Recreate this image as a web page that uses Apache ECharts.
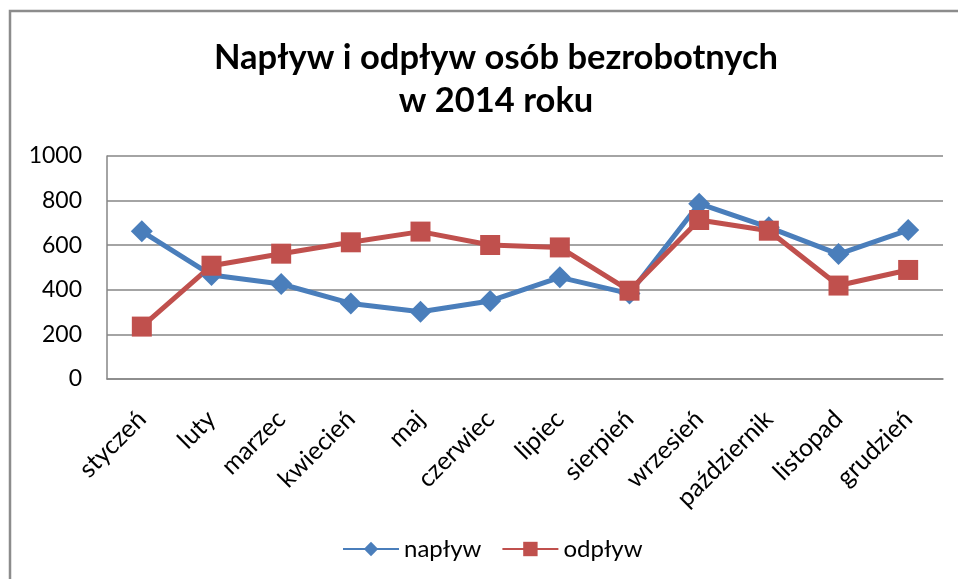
<!DOCTYPE html>
<html>
<head>
<meta charset="utf-8">
<script src="https://cdn.jsdelivr.net/npm/echarts@6/dist/echarts.min.js"></script>
<style>
  html, body { margin: 0; padding: 0; background: #fff; }
  #myChart { width: 958px; height: 579px; }
</style>
</head>
<body>
<div id="myChart"></div>
<script>
  // miesiące
  var months = ['styczeń', 'luty', 'marzec', 'kwiecień', 'maj', 'czerwiec',
    'lipiec', 'sierpień', 'wrzesień', 'październik', 'listopad', 'grudzień']
  var naplyw = [662, 466, 426, 339, 302, 350, 456, 383, 786, 680, 560, 668]
  var odplyw = [235, 508, 562, 613, 661, 601, 590, 396, 713, 665, 419, 489]

  var yMin = 0
  var yMax = 1000
  var yStep = 200

  var font = 'Lato, "Noto Sans", sans-serif'

  var myChart = echarts.init(document.getElementById('myChart'))
  myChart.setOption({
    animation: false,
    textStyle: { fontFamily: font },
    graphic: [{
      type: 'rect',
      shape: { x: 10, y: 11, width: 1000, height: 700 },
      style: { fill: 'none', stroke: '#8c8c8c', lineWidth: 2.5 },
      silent: true
    }],
    title: {
      text: 'Napływ i odpływ osób bezrobotnych\nw 2014 roku',
      left: 491,
      textAlign: 'center',
      top: 31,
      textStyle: {
        fontFamily: font,
        fontWeight: 'bold',
        fontSize: 34.5,
        lineHeight: 43,
        color: '#000'
      }
    },
    legend: {
      bottom: 13,
      left: 337,
      itemWidth: 56,
      itemHeight: 18,
      itemGap: 20,
      textStyle: { fontSize: 24, color: '#000', fontFamily: font },
      data: ['napływ', 'odpływ']
    },
    grid: {
      left: 107,
      right: 15,
      top: 156,
      bottom: 200
    },
    xAxis: {
      type: 'category',
      boundaryGap: true,
      data: months,
      axisLine: { show: true, lineStyle: { color: '#868686', width: 1.5 } },
      axisTick: { show: false },
      axisLabel: {
        rotate: 45,
        margin: 36,
        interval: 0,
        fontSize: 25,
        color: '#000',
        fontFamily: font
      }
    },
    yAxis: {
      type: 'value',
      min: yMin,
      max: yMax,
      interval: yStep,
      axisLine: { show: true, lineStyle: { color: '#868686', width: 1.5 } },
      axisTick: { show: false },
      splitLine: { lineStyle: { color: '#868686', width: 1.5 } },
      axisLabel: {
        margin: 25,
        fontSize: 23,
        color: '#000',
        fontFamily: font,
        formatter: function (v) { return String(v) }
      }
    },
    series: [
      {
        name: 'napływ',
        type: 'line',
        data: naplyw,
        symbol: 'diamond',
        symbolSize: 22,
        lineStyle: { color: '#4a7ebb', width: 5 },
        itemStyle: { color: '#4a7ebb' }
      },
      {
        name: 'odpływ',
        type: 'line',
        data: odplyw,
        symbol: 'rect',
        symbolSize: 20,
        lineStyle: { color: '#c0504d', width: 5 },
        itemStyle: { color: '#c0504d' }
      }
    ]
  })
</script>
</body>
</html>
